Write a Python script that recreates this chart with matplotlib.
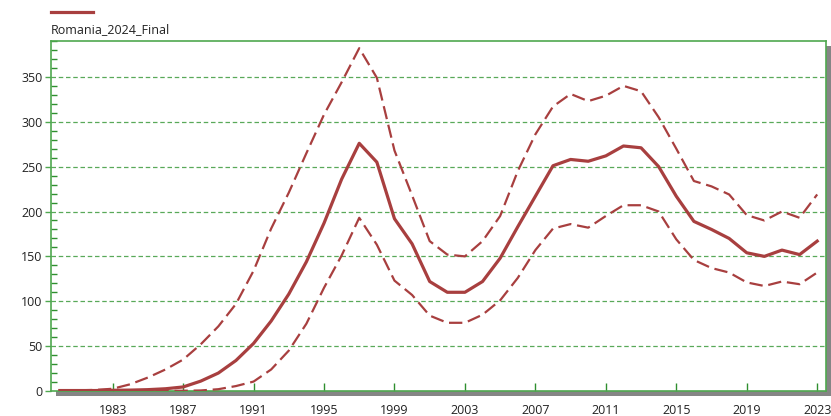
import matplotlib
matplotlib.use('Agg')

import matplotlib.pyplot as plt
from matplotlib.lines import Line2D
from matplotlib.patches import Rectangle
from matplotlib.ticker import MultipleLocator

YEARS = list(range(1980, 2024))

CENTRAL = [0.5, 0.5, 0.5, 0.8, 1, 1.5, 2.5, 4.5, 11, 20,
           34, 53, 78, 108, 144, 187, 236, 276, 255, 192,
           164, 122, 110, 110, 122, 148, 183, 217, 251, 258,
           256, 262, 273, 271, 250, 217, 189, 180, 170, 154,
           150, 157, 152, 167]

UPPER = [0.5, 0.8, 1.2, 2.5, 7.5, 15, 24, 35, 52, 72,
         97, 134, 181, 221, 265, 308, 344, 382, 349, 268,
         218, 167, 152, 150, 167, 195, 245, 286, 317, 331,
         323, 329, 340, 334, 305, 270, 234, 228, 219, 196,
         190, 200, 193, 219]

LOWER = [0, 0, 0, 0, 0.1, 0.1, 0.2, 0.3, 0.6, 2,
         5.5, 10.5, 24, 45, 75, 115, 151, 193, 163, 123,
         107, 84, 76, 76, 85, 101, 126, 157, 181, 186,
         182, 195, 207, 207, 200, 169, 146, 137, 132, 121,
         117, 122, 119, 132]

X_TICKS = list(range(1983, 2024, 4))
SERIES_NAME = 'Romania_2024_Final'

LINE_COLOR = '#a83f3f'
FRAME_GREEN = '#4fa84f'
GRID_GREEN = '#3c9a3c'


def plot():
    plt.rcParams['font.family'] = ['Open Sans', 'DejaVu Sans']
    fig = plt.figure(figsize=(8.31, 4.16), dpi=100)
    ax = fig.add_axes([51 / 831, 25 / 416, 775 / 831, 350 / 416])
    ax.set_zorder(1)

    # drop shadow behind the plot frame
    shadow = Rectangle((56 / 831, 20 / 416), 775 / 831, 350 / 416,
                       transform=fig.transFigure, facecolor='#858585',
                       edgecolor='none', zorder=-1)
    fig.patches.append(shadow)

    ax.plot(YEARS, UPPER, color=LINE_COLOR, lw=1.6, dashes=(6, 2.6), zorder=3)
    ax.plot(YEARS, LOWER, color=LINE_COLOR, lw=1.6, dashes=(6, 2.6), zorder=3)
    ax.plot(YEARS, CENTRAL, color=LINE_COLOR, lw=2.3, zorder=4)

    ax.set_xlim(1979.5, 2023.5)
    ax.set_ylim(0, 390)
    ax.set_xticks(X_TICKS)
    ax.yaxis.set_major_locator(MultipleLocator(50))
    ax.yaxis.set_minor_locator(MultipleLocator(10))

    ax.tick_params(axis='x', direction='in', length=6, width=1, color='#2f8f2f',
                   pad=9, labelsize=9, labelcolor='#222222')
    ax.tick_params(axis='y', which='major', direction='out', length=4.5, width=1,
                   color=FRAME_GREEN, pad=1.5, labelsize=9, labelcolor='#222222')
    ax.tick_params(axis='y', which='minor', direction='in', length=4, width=1,
                   color='#2f8f2f')

    for spine in ax.spines.values():
        spine.set_color(FRAME_GREEN)
        spine.set_linewidth(1.2)

    for value in range(50, 390, 50):
        ax.axhline(value, color=GRID_GREEN, lw=0.9, dashes=(3.6, 2.2), alpha=0.85, zorder=1)

    # legend drawn above the frame
    fig.add_artist(Line2D([51 / 831, 93 / 831], [404 / 416, 404 / 416],
                          transform=fig.transFigure, color=LINE_COLOR, lw=2.3))
    fig.text(51 / 831, 386 / 416, SERIES_NAME, fontsize=9, color='#222222',
             ha='left', va='center')

    fig.savefig('out.png', dpi=100)


if __name__ == '__main__':
    plot()
